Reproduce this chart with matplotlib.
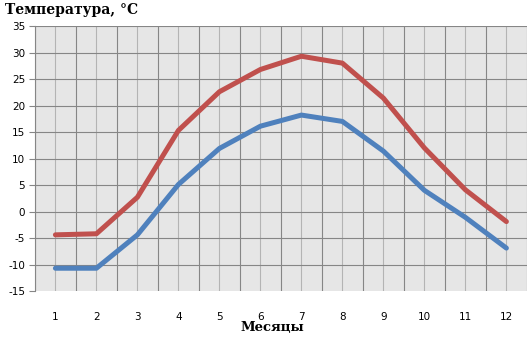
import matplotlib
matplotlib.use("Agg")
import matplotlib.pyplot as plt
import numpy as np

months = [1, 2, 3, 4, 5, 6, 7, 8, 9, 10, 11, 12]
t_max = [-4.4, -4.2, 2.7, 15.3, 22.6, 26.8, 29.3, 28.0, 21.4, 12.0, 4.1, -1.9]
t_min = [-10.7, -10.7, -4.4, 5.1, 11.9, 16.1, 18.2, 17.0, 11.4, 4.0, -1.1, -6.9]
y_ticks = list(range(-15, 40, 5))

fig = plt.figure(figsize=(5.29, 3.38), dpi=100)
ax = fig.add_axes([0.066, 0.139, 0.930, 0.784])
ax.set_facecolor("#e6e6e6")

ax.set_xlim(0.5, 12.5)
ax.set_ylim(-15, 35)

# grid
for b in np.arange(0.5, 13, 1.0):
    ax.axvline(b, color="#868686", lw=0.8, zorder=1)
for m in months:
    ax.axvline(m, color="#b4b4b4", lw=0.8, zorder=1)
for y in y_ticks[1:]:
    ax.axhline(y, color="#868686", lw=0.8, zorder=1)

ax.plot(months, t_max, color="#c0504d", lw=3.6, solid_capstyle="round", zorder=3)
ax.plot(months, t_min, color="#4f81bd", lw=3.6, solid_capstyle="round", zorder=3)

ax.set_yticks(y_ticks)
ax.set_yticklabels([str(v) for v in y_ticks], fontsize=7.5, family="DejaVu Sans")
ax.set_xticks(months)
ax.set_xticklabels([str(m) for m in months], fontsize=7.5, family="DejaVu Sans")
ax.tick_params(axis="y", length=4, width=0.8, color="#868686", pad=3)
ax.tick_params(axis="x", length=0, pad=15)
for s in ["top", "right", "bottom"]:
    ax.spines[s].set_visible(False)
ax.spines["left"].set_color("#868686")
ax.spines["left"].set_linewidth(0.8)

fig.text(0.009, 0.97, "Температура, °C", fontsize=10, fontweight="bold",
         family="DejaVu Serif", va="center", ha="left")
fig.text(0.515, 0.03, "Месяцы", fontsize=9.5, fontweight="bold",
         family="DejaVu Serif", va="center", ha="center")

fig.savefig("out.png", dpi=100)
